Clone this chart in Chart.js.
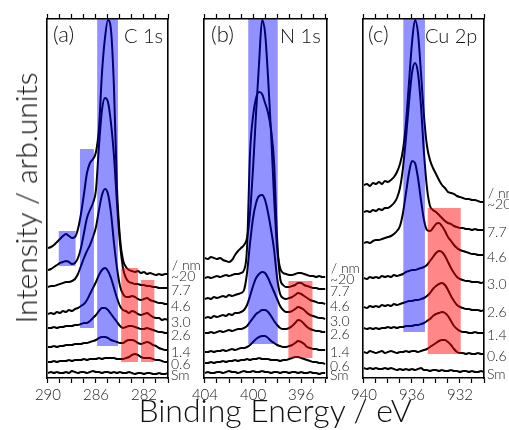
<!DOCTYPE html>
<html><head><meta charset="utf-8">
<script src="https://cdn.jsdelivr.net/npm/chart.js@4.4.1/dist/chart.umd.min.js"></script>
<style>
html,body{margin:0;padding:0;background:#fff;}
#wrap{position:relative;width:509px;height:430px;overflow:hidden;font-family:'Lato','Noto Sans',sans-serif;font-weight:300;color:#111;}
canvas{position:absolute;left:0;top:0;}
.t{position:absolute;white-space:nowrap;line-height:1;}
.pl{font-size:20px;top:25px;}
.pa{font-size:22px;top:23px;}
</style></head><body>
<div id="wrap">
<canvas id="ca" width="509" height="430"></canvas>
<canvas id="cb" width="509" height="430"></canvas>
<canvas id="cc" width="509" height="430"></canvas>
<div class="t pa" style="left:53px">(a)</div>
<div class="t pl" style="left:124px">C 1s</div>
<div class="t pa" style="left:211px">(b)</div>
<div class="t pl" style="left:280px">N 1s</div>
<div class="t pa" style="left:368px">(c)</div>
<div class="t pl" style="left:425px">Cu 2p</div>
<div class="t" id="ylab" style="font-size:30px;left:25px;top:198px;transform:translate(-50%,-50%) rotate(-90deg);">Intensity / arb.units</div>
<div class="t" id="xlab" style="font-size:32px;left:275px;top:410px;transform:translate(-50%,-50%);">Binding Energy / eV</div>
</div>
<script>
// ---- data (heights above bottom axis, arb. units) ----
const thickness = ['Sm','0.6','1.4','2.6','3.0','4.6','7.7','~20'];

const energyC1s = [290,289.75,289.5,289.25,289,288.75,288.5,288.25,288,287.75,287.5,287.25,287,286.75,286.5,286.25,286,285.75,285.5,285.25,285,284.75,284.5,284.25,284,283.75,283.5,283.25,283,282.75,282.5,282.25,282,281.75,281.5,281.25,281,280.75,280.5,280.25,280];
const c1s_Sm  = [5,6,5,6,5,5,6,5,7,6,5,6,6,5,6,7,6,6,5,6,6,5,6,5,6,5,5,6,5,4,5,5,4,5,5,4,4,5,4,4,5];
const c1s_06  = [16,16,17,16,17,17,17,18,17,18,18,18,19,18,19,19,19,20,19,20,20,20,20,19,19,19,20,21,23,24,23,21,20,20,20,19,18,18,17,16,16];
const c1s_14  = [31,31,32,31,32,32,33,33,33,34,34,34,35,35,36,37,38,40,41,41,40,38,37,36,35,35,37,38,38,37,35,34,35,36,35,33,32,30,29,28,28];
const c1s_26  = [50,50,51,50,51,51,52,52,52,53,53,54,55,55,57,60,63,67,70,70,68,64,60,56,52,50,51,52,52,51,50,49,49,50,49,48,47,46,46,45,45];
const c1s_30  = [64,65,64,66,65,67,66,68,67,69,70,72,74,78,84,90,96,103,108,110,107,100,90,80,72,68,67,65,67,66,64,63,64,65,63,61,60,60,58,59,58];
const c1s_46  = [91,92,92,93,94,95,96,96,97,99,104,112,120,127,133,141,151,168,183,189,184,165,135,110,92,84,81,81,82,81,79,78,79,80,78,77,76,75,75,74,74];
const c1s_77  = [108,109,111,113,115,116,117,116,114,115,120,130,145,160,168,175,188,232,268,280,276,255,222,175,135,110,100,96,95,94,94,93,93,92,92,91,91,90,90,90,90];
const c1s_20  = [130,131,133,136,139,142,144,142,140,141,149,164,184,205,215,219,226,250,305,340,358,348,290,190,140,118,111,108,107,106,107,105,106,104,105,104,103,104,103,104,104];

const energyN1s = [404,403.75,403.5,403.25,403,402.75,402.5,402.25,402,401.75,401.5,401.25,401,400.75,400.5,400.25,400,399.75,399.5,399.25,399,398.75,398.5,398.25,398,397.75,397.5,397.25,397,396.75,396.5,396.25,396,395.75,395.5,395.25,395,394.75,394.5,394.25,394];
const n1s_Sm  = [5,6,5,5,6,6,5,6,7,6,6,5,6,7,6,6,7,6,6,7,6,6,5,6,6,5,6,6,5,6,6,5,6,5,5,6,5,5,4,5,5];
const n1s_06  = [15,15,16,15,16,16,17,16,17,17,18,17,18,18,19,18,19,19,20,19,19,19,18,18,18,17,18,18,19,20,21,21,20,19,18,17,16,16,15,15,14];
const n1s_14  = [26,26,27,26,27,27,28,27,28,29,28,29,30,30,31,33,36,39,41,42,42,40,37,35,33,32,31,31,32,33,35,37,36,34,31,30,29,29,28,28,28];
const n1s_26  = [45,45,46,45,46,47,46,47,48,47,48,49,49,50,52,56,60,64,66,68,68,66,62,57,53,50,49,49,50,52,55,58,57,54,51,49,48,47,47,46,46];
const n1s_30  = [60,61,60,62,61,62,63,62,64,63,65,65,66,68,73,82,92,100,104,106,105,100,93,86,79,72,68,66,66,67,69,71,70,68,65,63,62,61,60,60,59];
const n1s_46  = [79,80,79,81,80,81,82,81,83,82,83,84,85,88,105,135,160,175,182,183,178,165,148,128,100,84,80,79,80,81,83,85,84,82,80,78,77,76,75,75,74];
const n1s_77  = [100,101,100,101,102,101,102,103,102,103,104,104,105,108,130,225,262,280,286,284,275,265,248,215,140,100,93,91,91,92,93,95,95,93,92,91,90,90,89,89,89];
const n1s_20  = [120,119,121,120,119,120,118,117,116,118,123,127,130,133,140,165,210,265,315,358,345,300,245,180,130,110,105,104,103,103,104,105,105,104,103,102,102,101,102,101,101];

const energyCu2p = [940,939.75,939.5,939.25,939,938.75,938.5,938.25,938,937.75,937.5,937.25,937,936.75,936.5,936.25,936,935.75,935.5,935.25,935,934.75,934.5,934.25,934,933.75,933.5,933.25,933,932.75,932.5,932.25,932,931.75,931.5,931.25,931,930.75,930.5,930.25,930];
const cu_Sm  = [10,9,10,9,10,9,9,10,9,10,9,8,9,8,9,8,9,8,9,10,8,8,7,8,8,7,8,7,7,8,7,7,6,7,7,6,7,6,6,7,6];
const cu_06  = [26,25,27,26,25,26,27,25,26,27,26,25,26,26,27,26,27,27,26,27,28,29,31,33,35,37,38,38,36,33,29,26,25,25,24,25,24,24,25,24,24];
const cu_14  = [50,49,50,49,50,49,50,50,51,50,51,50,51,51,52,52,52,53,53,54,55,57,59,62,64,65,66,65,62,57,52,49,47,46,46,45,45,46,45,45,45];
const cu_26  = [71,70,72,71,72,71,73,72,73,72,74,73,74,75,76,77,77,78,78,79,80,82,85,89,92,94,95,93,88,82,77,73,71,70,69,69,68,68,68,67,68];
const cu_30  = [100,99,101,100,101,100,102,101,102,101,103,102,103,104,106,107,108,108,109,110,111,113,117,121,125,127,126,122,116,110,105,101,99,98,97,97,96,96,96,95,96];
const cu_46  = [135,136,135,137,138,138,139,140,141,142,144,147,152,165,185,205,217,215,200,178,158,148,147,150,154,155,152,147,141,137,133,130,128,127,126,125,124,124,123,123,123];
const cu_77  = [166,167,166,168,167,169,168,170,170,172,175,180,190,210,240,275,305,315,305,272,225,190,172,168,166,163,160,157,155,154,152,151,150,150,149,149,148,149,148,148,148];
const cu_20  = [193,194,192,195,194,196,194,197,196,198,201,206,214,228,255,295,335,358,345,305,262,232,218,210,204,198,193,190,186,185,184,182,181,180,179,179,178,178,177,176,176];

// shaded regions: [E from, E to, low, high]
const c1sBlue = [[289.1,287.7,112,147],[287.33,286.17,50,229],[285.9,284.17,32,359]];
const c1sRed  = [[283.9,282.5,16,110],[282.25,281.14,16,98]];
const n1sBlue = [[400.4,397.95,34,359]];
const n1sRed  = [[397.06,395.06,20,97]];
const cuBlue  = [[936.72,934.92,46,359]];
const cuRed   = [[934.69,931.94,24,170]];

// ---- drawing ----
const FONT = "'Lato','Noto Sans',sans-serif";
Chart.defaults.font.family = FONT;
Chart.defaults.font.weight = 300;
const BLUE = 'rgba(0,0,255,0.43)', RED = 'rgba(255,0,0,0.47)';
const YMAX = 359, TOPH = 6, BOTH = 26;

function panel(id, energy, series, blue, red, xmin, xmax, area, mod) {
  const datasets = series.map((vals, k) => ({
    label: thickness[k],
    data: energy.map((e, i) => ({x: e, y: vals[i]})),
    borderColor: '#000', borderWidth: 2, pointRadius: 0, fill: false,
    cubicInterpolationMode: 'monotone', borderJoinStyle: 'round'
  }));
  const noLabel = () => '';
  const hideY = {display: true, min: 0, max: YMAX, ticks: {display: false},
    grid: {display: false, drawTicks: false},
    border: {display: true, color: '#000', width: 1.6},
    afterFit: s => { s.width = 0; }};
  const shade = {
    id: 'shade' + id,
    afterDatasetsDraw(chart) {
      const {ctx, chartArea: a, scales: {x, y}} = chart;
      ctx.save();
      ctx.beginPath(); ctx.rect(a.left, a.top, a.width, a.height); ctx.clip();
      const drawSet = (list, col) => list.forEach(r => {
        const x1 = x.getPixelForValue(r[0]), x2 = x.getPixelForValue(r[1]);
        const y1 = y.getPixelForValue(r[3]), y2 = y.getPixelForValue(r[2]);
        ctx.fillStyle = col;
        ctx.fillRect(Math.min(x1, x2), y1, Math.abs(x2 - x1), y2 - y1);
      });
      drawSet(blue, BLUE); drawSet(red, RED);
      ctx.restore();
    },
    afterDraw(chart) {
      const {ctx, chartArea: a, scales: {y}} = chart;
      ctx.save();
      ctx.font = "300 14px " + FONT;
      ctx.fillStyle = '#222';
      ctx.textBaseline = 'middle';
      ctx.textAlign = 'left';
      let topY = 0;
      chart.data.datasets.forEach(ds => {
        const py = y.getPixelForValue(ds.data[ds.data.length - 1].y) + 2;
        ctx.fillText(ds.label, a.right + 3, py);
        topY = py;
      });
      ctx.fillText('/ nm', a.right + 4, topY - 11);
      ctx.restore();
    }
  };
  new Chart(document.getElementById(id), {
    type: 'line',
    data: {datasets},
    plugins: [shade],
    options: {
      responsive: false, animation: false, events: [],
      layout: {padding: {left: area.l, right: 509 - area.r, top: area.t - TOPH, bottom: 430 - area.b - BOTH}},
      plugins: {legend: {display: false}, tooltip: {enabled: false}},
      scales: {
        x: {type: 'linear', reverse: true, min: xmin, max: xmax, position: 'bottom',
          ticks: {stepSize: 1, autoSkip: false, maxRotation: 0, includeBounds: false, padding: 3,
            color: '#222', font: {size: 15, weight: 300},
            callback: v => (Math.abs(v - Math.round(v)) < 1e-6 && Math.round(v) % 4 === mod) ? String(Math.round(v)) : ''},
          grid: {drawOnChartArea: false, drawTicks: true, tickLength: 5, tickColor: '#000', tickWidth: 1.2},
          border: {display: true, color: '#000', width: 1.6},
          afterFit: s => { s.height = BOTH; s.paddingLeft = 0; s.paddingRight = 0; }},
        xt: {axis: 'x', type: 'linear', reverse: true, min: xmin, max: xmax, position: 'top',
          ticks: {stepSize: 1, autoSkip: false, includeBounds: false, callback: noLabel},
          grid: {drawOnChartArea: false, drawTicks: true, tickLength: 5, tickColor: '#000', tickWidth: 1.2},
          border: {display: true, color: '#000', width: 1.6},
          afterFit: s => { s.height = TOPH; s.paddingLeft = 0; s.paddingRight = 0; }},
        y: Object.assign({position: 'left'}, hideY),
        yr: Object.assign({axis: 'y', position: 'right'}, hideY)
      }
    }
  });
}

panel('ca', energyC1s, [c1s_Sm, c1s_06, c1s_14, c1s_26, c1s_30, c1s_46, c1s_77, c1s_20],
  c1sBlue, c1sRed, 280, 290.08, {l: 47, r: 168, t: 19, b: 378}, 2);
panel('cb', energyN1s, [n1s_Sm, n1s_06, n1s_14, n1s_26, n1s_30, n1s_46, n1s_77, n1s_20],
  n1sBlue, n1sRed, 393.85, 404.08, {l: 204, r: 327, t: 19, b: 378}, 0);
panel('cc', energyCu2p, [cu_Sm, cu_06, cu_14, cu_26, cu_30, cu_46, cu_77, cu_20],
  cuBlue, cuRed, 930, 940.08, {l: 363, r: 484, t: 19, b: 378}, 0);
</script>
</body></html>
